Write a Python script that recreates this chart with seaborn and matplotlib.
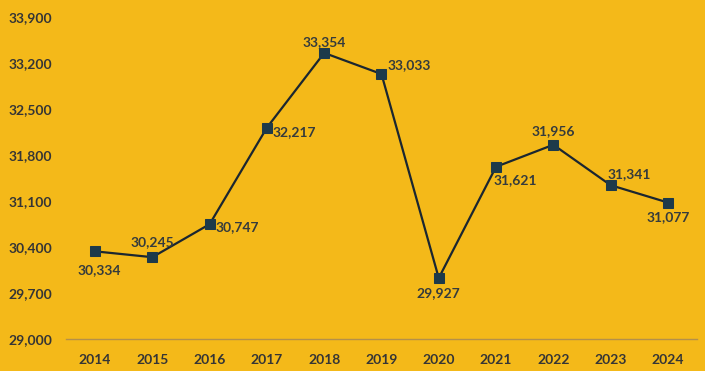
import matplotlib
matplotlib.use("Agg")
import matplotlib.pyplot as plt
import seaborn as sns
import pandas as pd
from matplotlib.ticker import FuncFormatter

years = ["2014", "2015", "2016", "2017", "2018", "2019", "2020", "2021", "2022", "2023", "2024"]
values = [30334, 30245, 30747, 32217, 33354, 33033, 29927, 31621, 31956, 31341, 31077]
yticks = [29000, 29700, 30400, 31100, 31800, 32500, 33200, 33900]

# label offsets in pixels (dx, dy, ha)
offsets = [(4, -19, "center"), (0, 15, "center"), (6, -3, "left"), (6, -4, "left"),
           (0, 11, "center"), (6, 9, "left"), (0, -15, "center"), (-3, -13, "left"),
           (0, 14, "center"), (-3, 11, "left"), (0, -15, "center")]

bg = "#F4B919"
sns.set_theme(style="white")
plt.rcParams["font.family"] = ["Lato", "DejaVu Sans"]

fig = plt.figure(figsize=(7.05, 3.71), dpi=100, facecolor=bg)
ax = fig.add_axes([0.0942, 0.0863, 0.8938, 0.8677])
ax.set_facecolor(bg)

df = pd.DataFrame({"year": years, "value": values})
sns.lineplot(data=df, x="year", y="value", ax=ax, color="#1b2630", linewidth=1.6,
             marker="s", markersize=6.5, markerfacecolor="#1d3a4a", markeredgecolor="#1d3a4a",
             sort=False)

for i, (y, v) in enumerate(zip(years, values)):
    dx, dy, ha = offsets[i]
    ax.annotate(f"{v:,}", (i, v), xytext=(dx, dy), textcoords="offset pixels",
                ha=ha, va="center", fontsize=10, fontweight="bold", color="#353b3c")

ax.set_xlim(-0.5, len(years) - 0.5)
ax.set_ylim(29000, 33900)
ax.set_yticks(yticks)
ax.yaxis.set_major_formatter(FuncFormatter(lambda v, p: f"{int(v):,}"))
ax.set_xlabel("")
ax.set_ylabel("")
for s in ["top", "right", "left"]:
    ax.spines[s].set_visible(False)
ax.spines["bottom"].set_color("#b3904a")
ax.spines["bottom"].set_linewidth(1.0)
ax.tick_params(axis="both", length=0, labelsize=10, labelcolor="#353535")
ax.tick_params(axis="y", pad=10)
ax.tick_params(axis="x", pad=11)
for lab in ax.get_xticklabels() + ax.get_yticklabels():
    lab.set_fontweight("bold")
ax.grid(False)

fig.savefig("out.png", dpi=100, facecolor=bg)
